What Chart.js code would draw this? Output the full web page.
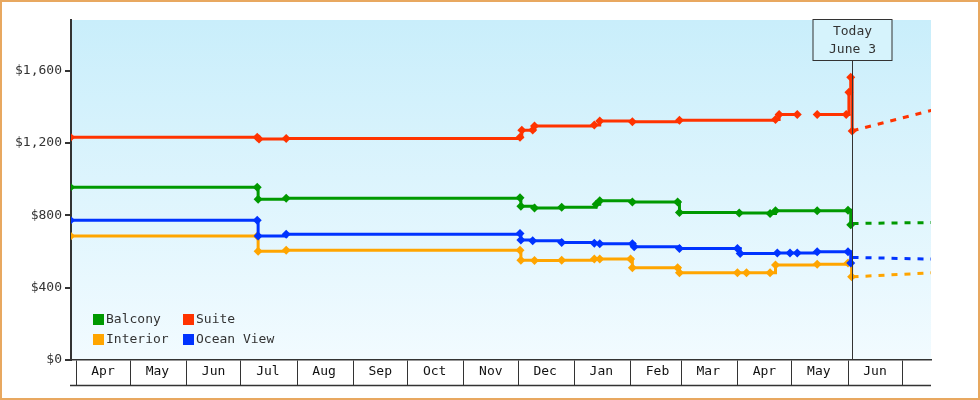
<!DOCTYPE html>
<html><head><meta charset="utf-8">
<script src="https://cdn.jsdelivr.net/npm/chart.js@4"></script>
<style>html,body{margin:0;padding:0;background:#fff}#w{width:980px;height:400px}</style>
</head><body><div id="w"><canvas id="c" width="980" height="400"></canvas></div>
<script>
// x values are days since April 1 of the first year
const monthLabels = ["Apr","May","Jun","Jul","Aug","Sep","Oct","Nov","Dec","Jan","Feb","Mar","Apr","May","Jun",""];
const monthStarts = [0,30,61,91,122,153,183,214,244,275,306,334,365,395,426,456];
const todayDay = 428;
const todayLabel = ["Today","June 3"];

const suiteDays = [-3,100,101,116,245,246,252,253,286,289,307,333,386,388,398,402,409,425,426.5,427.5,428.3];
const suiteVals = [1231,1231,1222,1225,1231,1270,1272,1294,1300,1321,1317,1325,1330,1357,1357,null,1357,1357,1480,1563,1266];
const balconyDays = [-3,100,100.5,116,245,245.5,253,268,287,289,307,332,333,366,383,386,409,426,427.5];
const balconyVals = [955,955,889,895,897,850,841,845,861,880,874,874,815,813,810,825,825,828,748];
const oceanDays = [-3,100,100.5,116,245,245.5,252,268,286,289,307,308,333,365,366.5,387,394,398,409,426,427.5];
const oceanVals = [773,773,685,696,700,663,659,650,645,643,643,626,617,617,589,591,591,591,598,598,537];
const interiorDays = [-3,100,100.5,116,245,245.5,253,268,286,289,306,307,332,333,365,370,383,386,409,426,428];
const interiorVals = [685,685,602,607,607,552,550,552,558,558,558,510,510,482,482,482,482,525,530,537,460];

const fcDays = [428.5,472];
const suiteFc = [1268,1380];
const balconyFc = [755,760];
const oceanFc = [567,558];
const interiorFc = [460,482];

const seriesNames = ["Balcony","Suite","Interior","Ocean View"];
const colors = {"Balcony":"#009900","Suite":"#ff3300","Interior":"#ffa500","Ocean View":"#0033ff"};

function pts(d,v){return d.map((x,i)=>({x:x,y:v[i]}));}
function main(name,d,v){return {label:name,data:pts(d,v),borderColor:colors[name],backgroundColor:colors[name],
  borderWidth:3,stepped:true,pointStyle:'rectRot',pointRadius:4.5,pointBorderWidth:0,spanGaps:false};}
function fc(name,v){return {label:name+" forecast",data:pts(fcDays,v),borderColor:colors[name],borderWidth:3,
  borderDash:[6,7],pointRadius:0,fc:true};}

const mono = "'DejaVu Sans Mono', monospace";

const deco = {
  id:'deco',
  beforeDraw(ch){
    const {ctx,chartArea:a}=ch;
    const g=ctx.createLinearGradient(0,a.top,0,a.bottom);
    g.addColorStop(0,'#c9eefb');g.addColorStop(1,'#f2fbff');
    ctx.save();ctx.fillStyle=g;ctx.fillRect(a.left,a.top,a.right-a.left,a.bottom-a.top);ctx.restore();
  },
  afterDraw(ch){
    const {ctx,chartArea:a,scales}=ch;
    ctx.save();
    // bottom line of month box
    ctx.strokeStyle='#333';ctx.lineWidth=1.5;
    ctx.beginPath();ctx.moveTo(a.left-1,385.5);ctx.lineTo(a.right,385.5);ctx.stroke();
    // today line & box
    const tx=Math.round(scales.x.getPixelForValue(todayDay))+0.5;
    ctx.lineWidth=1;ctx.beginPath();ctx.moveTo(tx,60);ctx.lineTo(tx,a.bottom);ctx.stroke();
    ctx.fillStyle='#d6f3fc';ctx.fillRect(tx-39.5,19.5,79,41);ctx.strokeRect(tx-39.5,19.5,79,41);
    ctx.fillStyle='#333';ctx.font='13px '+mono;ctx.textAlign='center';ctx.textBaseline='middle';
    ctx.fillText(todayLabel[0],tx,32);ctx.fillText(todayLabel[1],tx,50);
    // legend
    ctx.textAlign='left';
    const pos=[[93,320],[183,320],[93,340],[183,340]];
    seriesNames.forEach((n,i)=>{const [x,y]=pos[i];ctx.fillStyle=colors[n];ctx.fillRect(x,y-6,11,11);
      ctx.fillStyle='#333';ctx.fillText(n,x+13,y);});
    // outer border
    ctx.strokeStyle='#e8a860';ctx.lineWidth=2;ctx.strokeRect(1,1,978,398);
    ctx.restore();
  }
};

new Chart(document.getElementById('c'),{
  type:'line',
  data:{datasets:[
    main("Suite",suiteDays,suiteVals),main("Balcony",balconyDays,balconyVals),
    main("Ocean View",oceanDays,oceanVals),main("Interior",interiorDays,interiorVals),
    fc("Suite",suiteFc),fc("Balcony",balconyFc),fc("Ocean View",oceanFc),fc("Interior",interiorFc)
  ]},
  options:{
    responsive:false,animation:false,
    layout:{padding:{left:0,top:20,right:49,bottom:0}},
    plugins:{legend:{display:false},tooltip:{enabled:false}},
    scales:{
      x:{type:'linear',min:-2.76,max:471.8,
        afterBuildTicks(s){s.ticks=monthStarts.map(v=>({value:v}));},
        afterFit(s){s.height=40;},
        grid:{drawOnChartArea:false,tickLength:25,color:'#333',lineWidth:1},
        border:{color:'#333',width:1.5},
        ticks:{autoSkip:false,maxRotation:0,labelOffset:27,padding:-21,color:'#111',
          font:{family:mono,size:13},callback:(v,i)=>monthLabels[i]}},
      y:{min:0,max:1880,
        afterBuildTicks(s){s.ticks=[0,400,800,1200,1600].map(v=>({value:v}));},
        afterFit(s){s.width=71;},
        grid:{drawOnChartArea:false,tickLength:6,color:'#333',lineWidth:2},
        border:{color:'#333',width:2},
        ticks:{color:'#333',padding:3,font:{family:mono,size:13},
          callback:v=>'$'+v.toLocaleString('en-US')}}
    }
  },
  plugins:[deco]
});
</script></body></html>
